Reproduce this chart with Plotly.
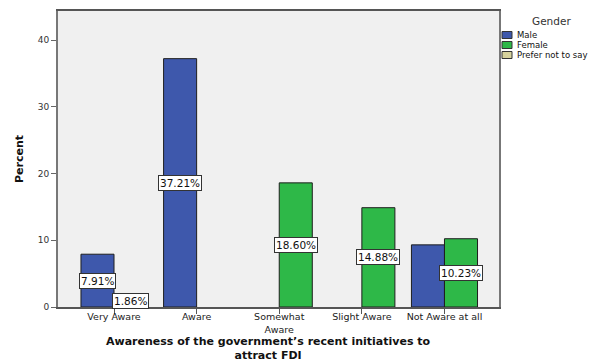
import plotly.graph_objects as go

# Awareness categories and percentage of respondents by gender
categories = ["Very Aware", "Aware", "Somewhat<br>Aware", "Slight Aware", "Not Aware at all"]
male = [7.91, 37.21, None, None, 9.31]
female = [1.86, None, 18.60, 14.88, 10.23]
prefer_not = [None, None, None, None, None]

# which bars carry a value box
male_labelled = [True, True, False, False, False]
female_labelled = [True, False, True, True, True]

series_names = ["Male", "Female", "Prefer not to say"]
series_colors = ["#3E58AC", "#2EB848", "#D6D29C"]

y_ticks = [0, 10, 20, 30, 40]

x_title = "Awareness of the government’s recent initiatives to<br>attract FDI"
y_title = "Percent"

BAR_W = 0.4
positions = list(range(len(categories)))

fig = go.Figure()
for vals, name, color, offset in [
    (male, series_names[0], series_colors[0], -BAR_W),
    (female, series_names[1], series_colors[1], 0.0),
]:
    fig.add_trace(go.Bar(
        x=positions, y=vals, name=name, width=BAR_W, offset=offset,
        marker=dict(color=color, line=dict(color="#1e1e1e", width=1)),
        showlegend=False, hoverinfo="skip",
    ))

# value boxes centred on each labelled bar
annotations = []
for vals, flags, shift in [(male, male_labelled, -BAR_W / 2), (female, female_labelled, BAR_W / 2)]:
    for i, (v, f) in enumerate(zip(vals, flags)):
        if v is None or not f:
            continue
        annotations.append(dict(
            x=i + shift, y=v / 2, xref="x", yref="y", text=f"{v:.2f}%",
            showarrow=False, font=dict(family="DejaVu Sans", size=10.5, color="#111"),
            bgcolor="white", bordercolor="#333", borderwidth=1, borderpad=1,
        ))

# plot frame in pixels
PL, PT, PW, PH = 58, 11, 441, 296


def px_x(px):
    return (px - PL) / PW


def px_y(py):
    return 1 - (py - PT) / PH


# x-axis title below the tick labels
annotations.append(dict(
    x=px_x(268), y=px_y(348), xref="paper", yref="paper",
    text=x_title, showarrow=False, xanchor="center", yanchor="middle",
    font=dict(family="DejaVu Sans", size=11, color="#111", weight="bold"),
))

# legend drawn beside the plot frame
shapes = []
annotations.append(dict(
    x=px_x(551), y=px_y(21), xref="paper", yref="paper",
    text="Gender", showarrow=False, xanchor="center", yanchor="middle",
    font=dict(family="DejaVu Sans", size=10.5, color="#333"),
))
for k, (name, color) in enumerate(zip(series_names, series_colors)):
    top = 31.5 + k * 10
    shapes.append(dict(
        type="rect", xref="paper", yref="paper",
        x0=px_x(502), x1=px_x(512), y0=px_y(top + 7), y1=px_y(top),
        fillcolor=color, line=dict(color="#333", width=1),
    ))
    annotations.append(dict(
        x=px_x(515), y=px_y(top + 3.5), xref="paper", yref="paper",
        text=name, showarrow=False, xanchor="left", yanchor="middle",
        font=dict(family="DejaVu Sans", size=8.5, color="#111"),
    ))

fig.update_layout(
    width=600, height=361,
    margin=dict(l=PL, r=600 - PL - PW, t=PT, b=361 - PT - PH),
    paper_bgcolor="white", plot_bgcolor="#F0F0F0",
    barmode="overlay", showlegend=False,
    annotations=annotations, shapes=shapes,
    font=dict(family="DejaVu Sans", color="#222"),
)
fig.update_xaxes(
    range=[-0.678, 4.66], tickvals=positions, ticktext=categories,
    ticks="outside", ticklen=5, tickcolor="#555", ticklabelstandoff=-5,
    tickfont=dict(family="DejaVu Sans", size=9.5, color="#222"),
    showgrid=False, zeroline=False, automargin=False,
    showline=True, linecolor="#555", linewidth=1.5, mirror=True,
)
fig.update_yaxes(
    range=[0, 44.35], tickvals=y_ticks,
    ticks="outside", ticklen=5, tickcolor="#666",
    tickfont=dict(family="DejaVu Sans", size=9, color="#333"),
    showgrid=False, zeroline=False, automargin=False,
    showline=True, linecolor="#777", linewidth=2, mirror=True,
    title=dict(
        text=y_title,
        font=dict(family="DejaVu Sans", size=11, color="#111", weight="bold"),
        standoff=12,
    ),
)

fig.write_html("out.html")
